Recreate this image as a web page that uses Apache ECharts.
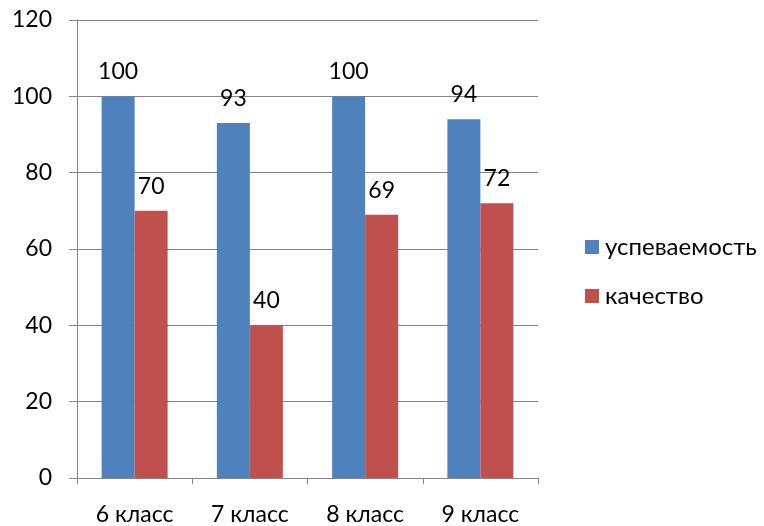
<!DOCTYPE html>
<html><head><meta charset="utf-8">
<script src="https://cdn.jsdelivr.net/npm/echarts@6/dist/echarts.min.js"></script>
<style>html,body{margin:0;padding:0;background:#fff}#c{width:764px;height:526px}</style>
</head><body><div id="c"></div>
<script>
const categories = ['6 класс', '7 класс', '8 класс', '9 класс'];
const uspevaemost = [100, 93, 100, 94];
const kachestvo = [70, 40, 69, 72];
const seriesNames = ['успеваемость', 'качество'];
const yTicks = {min: 0, max: 120, interval: 20};

const font = 'Lato, "Open Sans", sans-serif';
const chart = echarts.init(document.getElementById('c'), null, {renderer: 'canvas'});
const lbl = {show: true, position: 'top', distance: 13, color: '#000', fontSize: 23, fontFamily: font};
chart.setOption({
  animation: false,
  grid: {left: 77, right: 226, top: 20, bottom: 45},
  legend: {
    orient: 'vertical', left: 580, top: 230, itemGap: 25,
    itemWidth: 14, itemHeight: 14, icon: 'rect',
    textStyle: {fontSize: 24, fontFamily: font, color: '#000', padding: [0,0,0,1]},
    data: seriesNames
  },
  xAxis: {
    type: 'category', data: categories,
    axisLine: {lineStyle: {color: '#868686', width: 1}},
    axisTick: {show: true, length: 6, lineStyle: {color: '#868686'}},
    axisLabel: {fontSize: 23, fontFamily: font, color: '#000', margin: 25}
  },
  yAxis: {
    type: 'value', min: yTicks.min, max: yTicks.max, interval: yTicks.interval,
    axisLine: {show: true, lineStyle: {color: '#868686', width: 1}},
    axisTick: {show: true, length: 8, lineStyle: {color: '#868686'}},
    splitLine: {lineStyle: {color: '#868686', width: 1}},
    axisLabel: {fontSize: 23, fontFamily: font, color: '#000', margin: 25}
  },
  series: [
    {name: seriesNames[0], type: 'bar', data: uspevaemost, barWidth: 33, barGap: '0%',
     itemStyle: {color: '#4F81BD'}, label: lbl},
    {name: seriesNames[1], type: 'bar', data: kachestvo, barWidth: 33, barGap: '0%',
     itemStyle: {color: '#C0504D'}, label: lbl}
  ]
});
</script></body></html>
